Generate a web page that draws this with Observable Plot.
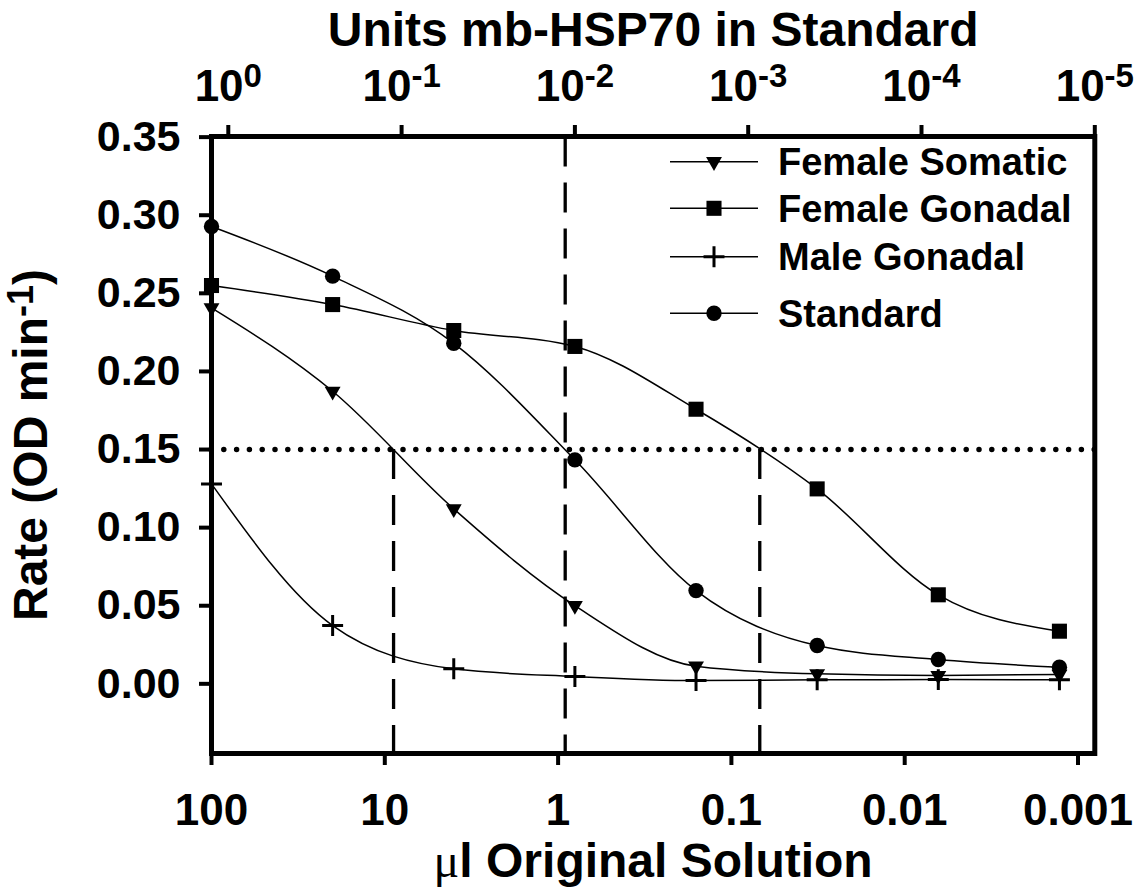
<!DOCTYPE html>
<html>
<head>
<meta charset="utf-8">
<script src="https://cdn.jsdelivr.net/npm/d3@7"></script>
<script src="https://cdn.jsdelivr.net/npm/@observablehq/plot@0.6"></script>
<style>
  html, body { margin: 0; padding: 0; background: #fff; }
</style>
</head>
<body>
<div id="chart"></div>
<script>
// ---- data ----
const volumes = [100, 20, 4, 0.8, 0.16, 0.032, 0.0064, 0.00128];           // µl original solution
const femaleSomatic = [0.2407, 0.1873, 0.112, 0.0501, 0.0113, 0.0064, 0.0053, 0.0060];
const femaleGonadal = [0.255, 0.2428, 0.2262, 0.216, 0.1758, 0.1248, 0.057, 0.0337];
const maleGonadal   = [0.128, 0.0373, 0.0096, 0.0047, 0.0021, 0.0026, 0.0027, 0.0026];
const standard      = [0.2928, 0.261, 0.218, 0.1434, 0.0597, 0.0245, 0.0156, 0.0106];
const seriesNames = ["Female Somatic", "Female Gonadal", "Male Gonadal", "Standard"];
const xTicks = [100, 10, 1, 0.1, 0.01, 0.001];
const unitExponents = [0, -1, -2, -3, -4, -5];
const ulPerUnit = 80;
const yTicks = [0, 0.05, 0.10, 0.15, 0.20, 0.25, 0.30, 0.35];
const thresholdRate = 0.15;
const crossVolumes = [8.9, 0.91, 0.0686];
const crossTops = [0.15, 0.35, 0.15];

const xTitle = "μl Original Solution";
const topTitle = "Units mb-HSP70 in Standard";
const yTitle = "Rate (OD min^{-1})";

const xDomain = [100, 0.0008];
const yDomain = [-0.0446, 0.3504];

const seriesValues = [femaleSomatic, femaleGonadal, maleGonadal, standard];
const rows = seriesNames.flatMap((name, s) =>
  volumes.map((v, i) => ({series: name, volume: v, rate: seriesValues[s][i]})));
const crossRows = crossVolumes.map((v, i) => ({volume: v, top: crossTops[i]}));

// down-pointing triangle symbol
const triangleDown = {
  draw(context, size) {
    const y = Math.sqrt(size / (Math.sqrt(3) * 3));
    context.moveTo(0, y * 2);
    context.lineTo(-Math.sqrt(3) * y, -y);
    context.lineTo(Math.sqrt(3) * y, -y);
    context.closePath();
  }
};
const markerStyle = {
  "Female Somatic": {symbol: triangleDown, r: 5.9, fill: "black", stroke: "none", strokeWidth: 0},
  "Female Gonadal": {symbol: d3.symbolSquare, r: 8.5, fill: "black", stroke: "none", strokeWidth: 0},
  "Male Gonadal":   {symbol: d3.symbolPlus, r: 6.8, fill: "none", stroke: "black", strokeWidth: 3},
  "Standard":       {symbol: d3.symbolCircle, r: 7.7, fill: "black", stroke: "none", strokeWidth: 0}
};

const W = 1135, H = 888;
const mLeft = 211, mTop = 136, mBottom = 135;
const mRight = W - 1094.3;

const marks = [
  Plot.ruleY([thresholdRate], {strokeWidth: 5.5, strokeDasharray: "0,12.8", strokeLinecap: "round"}),
  Plot.ruleX(crossRows, {x: "volume", y1: "top", y2: yDomain[0], strokeWidth: 3.3, strokeDasharray: "30,16"}),
  Plot.line(rows, {x: "volume", y: "rate", z: "series", curve: "monotone-x", stroke: "black", strokeWidth: 1.5}),
  ...seriesNames.map(name => {
    const st = markerStyle[name];
    return Plot.dot(rows.filter(d => d.series === name), {
      x: "volume", y: "rate", symbol: st.symbol, r: st.r,
      fill: st.fill, stroke: st.stroke, strokeWidth: st.strokeWidth
    });
  }),
  Plot.frame({strokeWidth: 5}),
  Plot.axisY({ticks: yTicks, tickFormat: d3.format(".2f"), tickSize: 12, tickPadding: 19,
    strokeWidth: 4, fontSize: 43, fontWeight: "bold", label: null}),
  Plot.axisX({anchor: "bottom", ticks: xTicks, tickFormat: d => String(d), tickSize: 12, tickPadding: 28,
    strokeWidth: 4, fontSize: 44, fontWeight: "bold", label: null}),
  Plot.axisX({anchor: "top", ticks: unitExponents.map(e => ulPerUnit * Math.pow(10, e)),
    tickFormat: () => "", tickSize: 12, strokeWidth: 4, label: null}),
  Plot.text(unitExponents, {x: e => ulPerUnit * Math.pow(10, e), text: e => `10^{${e}}`,
    frameAnchor: "top", lineAnchor: "bottom", textAnchor: "middle", dy: -36, fontSize: 44, fontWeight: "bold"}),
  Plot.text([topTitle], {text: d => d, frameAnchor: "top", lineAnchor: "bottom", textAnchor: "middle",
    dy: -91, fontSize: 48, fontWeight: "bold"}),
  Plot.text([xTitle], {text: d => d, frameAnchor: "bottom", lineAnchor: "bottom", textAnchor: "middle",
    dy: 123.7, fontSize: 48, fontWeight: "bold"}),
  Plot.text([yTitle], {text: d => d, frameAnchor: "left", lineAnchor: "middle", textAnchor: "middle",
    dx: -179.5, rotate: -90, fontSize: 48, fontWeight: "bold"})
];

const chart = Plot.plot({
  width: W, height: H,
  marginLeft: mLeft, marginRight: mRight, marginTop: mTop, marginBottom: mBottom,
  style: {fontFamily: "'Liberation Sans', Arial, Helvetica, sans-serif", fontWeight: "bold", background: "white", color: "black", overflow: "visible"},
  x: {type: "log", domain: xDomain},
  y: {domain: yDomain},
  marks
});
document.getElementById("chart").appendChild(chart);

// ---- superscripts & mu glyph ----
const NS = "http://www.w3.org/2000/svg";
chart.querySelectorAll("text").forEach(t => {
  if (t.children.length) return;
  const s = t.textContent;
  if (s.includes("^{")) {
    const base = parseFloat(getComputedStyle(t).fontSize) || 44;
    const shift = 0.3 * base;
    const parts = s.split(/(\^\{[^}]*\})/).filter(p => p);
    t.textContent = "";
    let up = false;
    for (const p of parts) {
      const ts = document.createElementNS(NS, "tspan");
      if (p.startsWith("^{")) {
        ts.textContent = p.slice(2, -1);
        ts.style.fontSize = (0.75 * base) + "px";
        ts.setAttribute("dy", -shift);
        up = true;
      } else {
        ts.textContent = p;
        if (up) { ts.setAttribute("dy", shift); up = false; }
      }
      t.appendChild(ts);
    }
  } else if (s.startsWith("μ")) {
    t.textContent = "";
    const mu = document.createElementNS(NS, "tspan");
    mu.textContent = "μ";
    mu.style.fontFamily = "'Liberation Serif', 'DejaVu Serif', serif";
    mu.style.fontWeight = "normal";
    const rest = document.createElementNS(NS, "tspan");
    rest.textContent = s.slice(1);
    t.appendChild(mu); t.appendChild(rest);
  }
});

// ---- legend (inside the plot area, top right) ----
const legendRowsY = [161.7, 208.3, 256.7, 313.3];
const lg = d3.select(chart).append("g").attr("aria-label", "legend");
seriesNames.forEach((name, i) => {
  const st = markerStyle[name];
  const y = legendRowsY[i];
  lg.append("line").attr("x1", 670).attr("x2", 758).attr("y1", y).attr("y2", y)
    .attr("stroke", "black").attr("stroke-width", 1.5);
  lg.append("path")
    .attr("d", d3.symbol(st.symbol, st.r * st.r * Math.PI)())
    .attr("transform", `translate(714,${y})`)
    .attr("fill", st.fill).attr("stroke", st.stroke).attr("stroke-width", st.strokeWidth);
  lg.append("text").attr("x", 778).attr("y", y).attr("dy", "0.36em")
    .attr("text-anchor", "start")
    .attr("font-size", 38).attr("font-weight", "bold").attr("fill", "black")
    .text(name);
});
</script>
</body>
</html>
